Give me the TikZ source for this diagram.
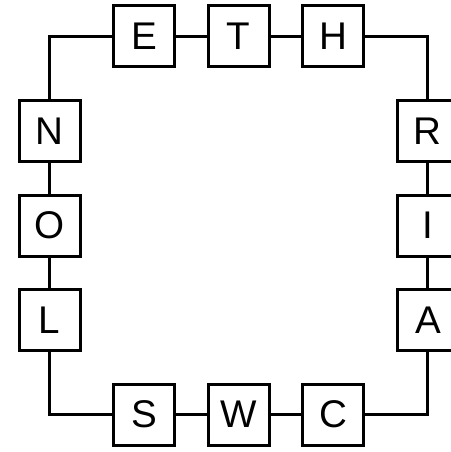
\documentclass[tikz,border=0pt]{standalone}
\usepackage{fontspec}
\setmainfont{Liberation Sans}
\begin{document}
\begin{tikzpicture}[x=1pt,y=-1pt,
  letterbox/.style={draw=black, line width=3pt, minimum size=61pt, inner sep=0pt, font=\fontsize{38.6pt}{40pt}\selectfont},
  link/.style={draw=black, line width=3pt}]
\useasboundingbox (0,0) rectangle (450,452);
\node[letterbox] (E) at (144.1,36.3) {E};
\node[letterbox] (T) at (238.7,36.3) {T};
\node[letterbox] (H) at (333.3,36.3) {H};
\node[letterbox] (R) at (427.9,131) {R};
\node[letterbox] (I) at (427.9,225.5) {I};
\node[letterbox] (A) at (427.9,320) {A};
\node[letterbox] (C) at (333.3,414.7) {C};
\node[letterbox] (W) at (238.7,414.7) {W};
\node[letterbox] (S) at (144.1,414.7) {S};
\node[letterbox] (L) at (49.5,320) {L};
\node[letterbox] (O) at (49.5,225.5) {O};
\node[letterbox] (N) at (49.5,131) {N};
\draw[link] (N.north) |- (E.west);
\draw[link] (E) -- (T);
\draw[link] (T) -- (H);
\draw[link] (H.east) -| (R.north);
\draw[link] (R) -- (I);
\draw[link] (I) -- (A);
\draw[link] (A.south) |- (C.east);
\draw[link] (C) -- (W);
\draw[link] (W) -- (S);
\draw[link] (S.west) -| (L.south);
\draw[link] (L) -- (O);
\draw[link] (O) -- (N);
\end{tikzpicture}
\end{document}
